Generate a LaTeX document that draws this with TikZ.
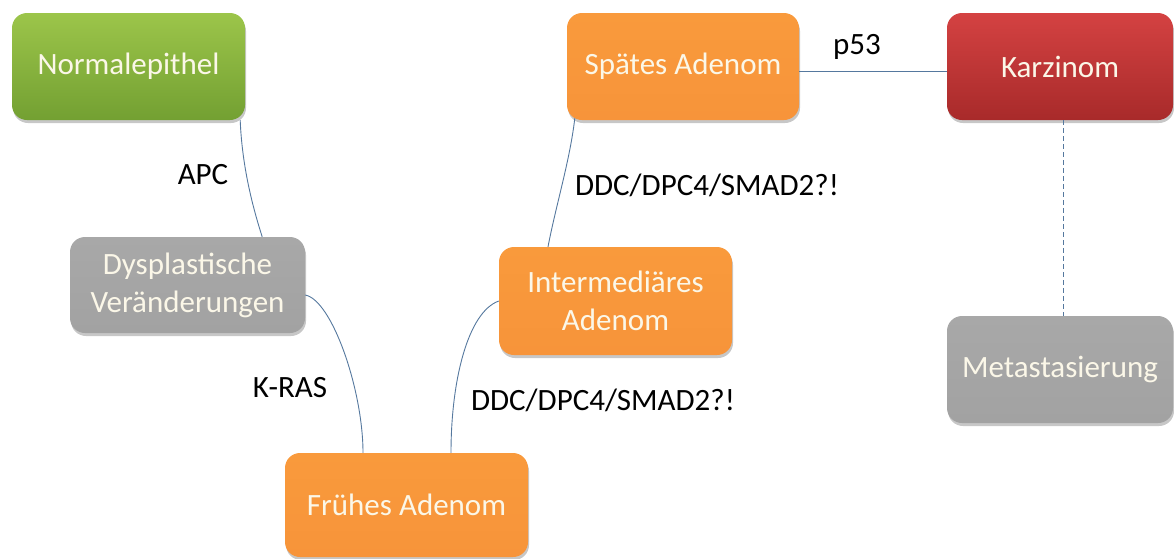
\documentclass[tikz,border=0pt]{standalone}
\usepackage{fontspec}
\setmainfont{Carlito}
\usetikzlibrary{shadows,calc}
\definecolor{boxtext}{HTML}{FBF7E8}
\definecolor{greenT}{HTML}{9CC54A}
\definecolor{greenB}{HTML}{73A032}
\definecolor{orangeT}{HTML}{F99A3C}
\definecolor{orangeB}{HTML}{F7943A}
\definecolor{redT}{HTML}{D44242}
\definecolor{redB}{HTML}{A82A2A}
\definecolor{grayT}{HTML}{A8A8A8}
\definecolor{grayB}{HTML}{A2A2A2}
\definecolor{linkc}{HTML}{55789E}
\tikzset{
  box/.style={rectangle, rounded corners=15pt, text=boxtext, align=center,
    font=\fontsize{31}{38}\selectfont, inner sep=0pt,
    drop shadow={shadow xshift=1pt, shadow yshift=-3pt, opacity=0.22, fill=black}},
  greenbox/.style={box, top color=greenT, bottom color=greenB},
  orangebox/.style={box, top color=orangeT, bottom color=orangeB},
  redbox/.style={box, top color=redT, bottom color=redB},
  graybox/.style={box, top color=grayT, bottom color=grayB},
  lbl/.style={text=black, font=\fontsize{31}{38}\selectfont, inner sep=0pt},
  link/.style={draw=linkc, line width=0.9pt},
}
\begin{document}
\begin{tikzpicture}[x=1pt, y=-1pt]
\useasboundingbox (0,0) rectangle (1174,558);
\node[greenbox, minimum width=233pt, minimum height=107pt] (n1) at (128.5,66.5) {Normalepithel};
\node[graybox, minimum width=235pt, minimum height=96pt] (dys) at (187.5,285) {Dysplastische\\Veränderungen};
\node[orangebox, minimum width=243pt, minimum height=104pt] (fr) at (406.5,505) {Frühes Adenom};
\node[orangebox, minimum width=233pt, minimum height=108pt] (int) at (615.5,301) {Intermediäres\\Adenom};
\node[orangebox, minimum width=232pt, minimum height=107pt] (sp) at (683,66.5) {Spätes Adenom};
\node[redbox, minimum width=226pt, minimum height=107pt] (ka) at (1060,66.5) {Karzinom};
\node[graybox, minimum width=226pt, minimum height=107pt] (me) at (1060,369.5) {Metastasierung};

\draw[link] ($(n1.south east)+(-5,0)$) .. controls (242,165) and (252,205) .. ($(dys.north east)+(-43,0)$);
\draw[link] ($(dys.east)+(0,10)$) .. controls (332,300) and (363,390) .. ($(fr.north)+(-43.5,0)$);
\draw[link] ($(fr.north)+(44.5,0)$) .. controls (451,380) and (468,312) .. (int.west);
\draw[link] ($(int.north)+(-67.5,0)$) .. controls (556,205) and (570,160) .. ($(sp.south west)+(8,-2)$);
\draw[link] ($(sp.east)+(0,5)$) -- ($(ka.west)+(0,5)$);
\draw[link, dashed, dash pattern=on 5pt off 3pt, line width=0.8pt] ($(ka.south)+(3,0)$) -- ($(me.north)+(3,0)$);

\node[lbl] (apc) at (203,175) {APC};
\node[lbl] (kras) at (290,388) {K-RAS};
\node[lbl] (ddc1) at (603,400) {DDC/DPC4/SMAD2?!};
\node[lbl] (ddc2) at (707,185) {DDC/DPC4/SMAD2?!};
\node[lbl] (p53) at (857,47) {p53};
\end{tikzpicture}
\end{document}
